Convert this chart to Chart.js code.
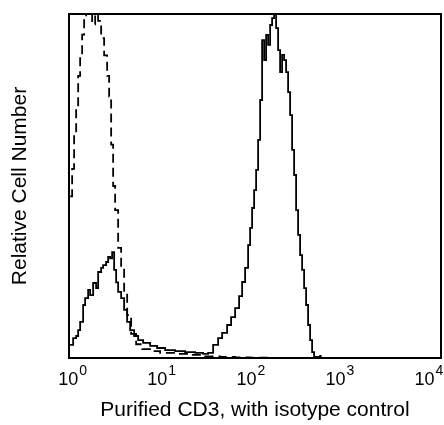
<!DOCTYPE html>
<html>
<head>
<meta charset="utf-8">
<script src="https://cdn.jsdelivr.net/npm/chart.js@4"></script>
<style>
  html, body { margin: 0; padding: 0; background: #fff; }
</style>
</head>
<body>
<canvas id="histo" width="444" height="425"></canvas>
<script>
//------------------------------------------------------------------------------
// data (x = fluorescence, y = % of plot height)
//------------------------------------------------------------------------------
var cd3X = [0.937, 1.013, 1.095, 1.153, 1.214, 1.311, 1.381, 1.493, 1.572, 1.699, 1.835, 1.933, 2.089, 2.199, 2.377, 2.503,
            2.636, 2.776, 2.923, 3.078, 3.241, 3.502, 3.784, 4.090, 4.419, 4.901, 5.435, 6.183, 7.409, 8.879, 10.92, 14.14,
            18.31, 23.71, 29.15, 33.17, 37.75, 42.95, 47.64, 54.20, 60.09, 66.65, 73.90, 79.89, 86.30, 93.26, 98.2, 103.4,
            108.9, 114.7, 120.8, 127.2, 133.9, 141.1, 148.5, 156.4, 164.7, 173.4, 182.6, 192.3, 202.5, 213.2, 224.5, 236.4,
            249.0, 262.2, 276.1, 290.7, 306.2, 322.4, 339.5, 357.5, 376.5, 396.4, 417.5, 439.6, 463.0, 487.5, 513.3, 599.6, 776.3, 13000];
var cd3Y = [3.8, 5.8, 6.4, 8.1, 10.5, 15.4, 17.4, 19.8, 18.3, 21.8, 20.3, 25, 26.2, 27, 27.9, 29.4,
            29, 30.8, 25.6, 22, 19.2, 17.4, 14, 10.5, 8.1, 6.4, 5.2, 4.4, 3.5, 2.9, 2.3, 2.0,
            1.7, 1.5, 1.2, 1.5, 3.8, 5.8, 7.3, 9.6, 11.9, 14.5, 18, 22.1, 26.2, 32.8, 37.8, 43.6,
            48.8, 54.7, 63.4, 75, 92.4, 86.6, 93.9, 91, 96.8, 98.8, 100, 95.9, 89.5, 83.1, 88.1, 86.6,
            83.1, 77.3, 70.6, 60.5, 53.2, 43, 35.8, 29.9, 25.6, 20.3, 15.4, 9.6, 5.2, 1.7, 0.3, 0, 0, 0];

var isoX = [0.937, 0.987, 1.039, 1.095, 1.153, 1.214, 1.278, 1.346, 1.417, 1.532, 1.655, 1.789, 1.933, 2.089, 2.257, 2.439,
            2.568, 2.705, 2.848, 2.999, 3.241, 3.502, 3.784, 4.090, 4.535, 5.161, 6.026, 7.409, 9.594, 14.14, 20.83, 30.70,
            45.23, 66.65, 98.2, 164.7, 540.6, 599.6, 682.3, 13000];
var isoY = [47, 55, 65, 73, 82, 88, 94, 99, 103, 101, 97, 102, 98, 93, 88, 82,
            76, 62, 50, 43, 32, 26, 19, 12.5, 7, 4, 2.6, 2.0, 1.5, 1.2, 0.9, 0.5,
            0.3, 0.2, 0.1, 0, 0, 0.6, 0, 0];

var tickVals = [1, 10, 100, 1000, 10000];
var tickExp = ["0", "1", "2", "3", "4"];

var xTitle = "Purified CD3, with isotype control";
var yTitle = "Relative Cell Number";

//------------------------------------------------------------------------------
var FONT = '"Liberation Sans", Arial, sans-serif';

function pairs(xs, ys) {
  var out = [];
  for (var i = 0; i < xs.length; i++) out.push({x: xs[i], y: ys[i]});
  return out;
}

// box round the plot + "10^n" tick labels
var framePlugin = {
  id: 'frame',
  afterDatasetsDraw: function(chart) {
    var a = chart.chartArea, c = chart.ctx, xs = chart.scales.x;
    c.save();
    c.strokeStyle = '#000';
    c.lineWidth = 2;
    c.strokeRect(a.left, a.top, a.right - a.left, a.bottom - a.top);
    c.fillStyle = '#000';
    c.textBaseline = 'alphabetic';
    c.textAlign = 'left';
    for (var i = 0; i < tickVals.length; i++) {
      var px = xs.getPixelForValue(tickVals[i]);
      c.font = '18px ' + FONT;
      var w1 = c.measureText('10').width;
      c.font = '14px ' + FONT;
      var w2 = c.measureText(tickExp[i]).width;
      var x0 = px - (w1 + w2 + 1) / 2;
      c.font = '18px ' + FONT;
      c.fillText('10', x0, a.bottom + 27);
      c.font = '14px ' + FONT;
      c.fillText(tickExp[i], x0 + w1 + 1, a.bottom + 17);
    }
    c.restore();
  }
};

var ctx = document.getElementById("histo");
var chart = new Chart(ctx, {
  type: 'line',
  data: {
    datasets: [{
      label: "CD3",
      data: pairs(cd3X, cd3Y),
      borderColor: '#000',
      borderWidth: 1.8,
      pointRadius: 0,
      stepped: true,
      fill: false,
      clip: 0
    }, {
      label: "Isotype control",
      data: pairs(isoX, isoY),
      borderColor: '#000',
      borderWidth: 1.8,
      borderDash: [9, 5],
      pointRadius: 0,
      stepped: true,
      fill: false,
      clip: 0
    }]
  },
  options: {
    responsive: false,
    animation: false,
    layout: { autoPadding: false, padding: { top: 14, right: 3, left: 0, bottom: 0 } },
    plugins: { legend: { display: false }, tooltip: { enabled: false } },
    scales: {
      x: {
        type: 'logarithmic',
        min: 0.91,
        max: 13640,
        grid: { display: false },
        border: { display: false },
        ticks: { display: false },
        title: { display: true, text: xTitle, color: '#000', font: { family: FONT, size: 21 }, padding: { top: 0, bottom: 2 } },
        afterFit: function(s) { s.height = 67; }
      },
      y: {
        min: 0,
        max: 100,
        grid: { display: false },
        border: { display: false },
        ticks: { display: false },
        title: { display: true, text: yTitle, color: '#000', font: { family: FONT, size: 21 }, padding: { top: 7.5, bottom: 0 } },
        afterFit: function(s) { s.width = 69; }
      }
    }
  },
  plugins: [framePlugin]
});
</script>
</body>
</html>
